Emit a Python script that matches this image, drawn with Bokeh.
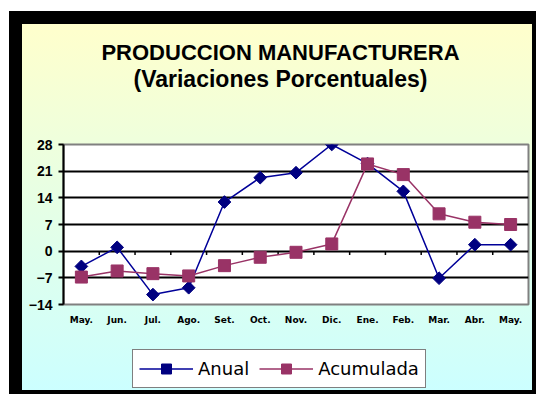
import math
from bokeh.plotting import figure
from bokeh.layouts import column
from bokeh.models import FixedTicker, Label, Legend, LegendItem, Range1d
from bokeh.embed import file_html
from bokeh.resources import INLINE

# ---- data ----
months = ["May.", "Jun.", "Jul.", "Ago.", "Set.", "Oct.", "Nov.", "Dic.",
          "Ene.", "Feb.", "Mar.", "Abr.", "May."]
anual = [-4.0, 1.0, -11.4, -9.6, 12.9, 19.3, 20.6, 28.0, 23.0, 15.7, -7.1, 1.7, 1.7]
acumulada = [-6.8, -5.2, -5.9, -6.5, -3.8, -1.6, -0.3, 1.9, 22.9, 20.1, 9.8, 7.6, 7.0]
y_ticks = [-14, -7, 0, 7, 14, 21, 28]
title_lines = ["PRODUCCION MANUFACTURERA", "(Variaciones Porcentuales)"]
series_names = ["Anual", "Acumulada"]

ANUAL_LINE, ANUAL_MARK = "#000099", "#000080"
ACUM_COLOR = "#993366"

xs = list(range(len(months)))
W = 536

# ---------- title figure ----------
pt = figure(width=W, height=100, output_backend="svg", toolbar_location=None,
            title=None, x_axis_location=None, y_axis_location=None,
            x_range=Range1d(0, 1), y_range=Range1d(0, 1), min_border=0)
pt.grid.visible = False
pt.outline_line_color = None
pt.background_fill_alpha = 0
pt.border_fill_alpha = 0
for txt, yy, fs in zip(title_lines, [48, 22], ["22px", "23px"]):
    pt.add_layout(Label(x=217, y=yy, x_units="screen", y_units="screen", text=txt,
                        text_align="center", text_baseline="middle",
                        text_font="Liberation Sans", text_font_size=fs,
                        text_font_style="bold", text_color="black"))

# ---------- main chart ----------
p = figure(width=W, height=240, output_backend="svg", toolbar_location=None,
           title=None,
           x_range=Range1d(-0.5, len(months) - 0.5),
           y_range=Range1d(min(y_ticks), max(y_ticks)),
           min_border_left=63, min_border_right=8,
           min_border_top=44, min_border_bottom=36)
p.border_fill_alpha = 0
p.background_fill_color = "white"
p.outline_line_color = "#808080"
p.outline_line_width = 2

p.yaxis.ticker = FixedTicker(ticks=y_ticks)
p.yaxis.axis_line_color = "black"
p.yaxis.axis_line_width = 2
p.yaxis.major_tick_out = 5
p.yaxis.major_tick_in = 0
p.yaxis.major_tick_line_width = 2
p.yaxis.major_tick_line_color = "black"
p.yaxis.minor_tick_line_color = None
p.yaxis.major_label_standoff = 6
p.yaxis.major_label_text_font = "Liberation Sans"
p.yaxis.major_label_text_font_size = "14px"
p.yaxis.major_label_text_font_style = "bold"
p.yaxis.major_label_text_color = "black"

p.xaxis.ticker = FixedTicker(ticks=xs)
p.xaxis.major_label_overrides = {i: m for i, m in enumerate(months)}
p.xaxis.axis_line_color = None
p.xaxis.major_tick_line_color = None
p.xaxis.minor_tick_line_color = None
p.xaxis.major_tick_out = 0
p.xaxis.major_tick_in = 0
p.xaxis.major_label_standoff = 10
p.xaxis.major_label_text_font = "DejaVu Sans"
p.xaxis.major_label_text_font_size = "9px"
p.xaxis.major_label_text_font_style = "bold"
p.xaxis.major_label_text_color = "black"

p.xgrid.grid_line_color = None
p.ygrid.ticker = FixedTicker(ticks=y_ticks[1:-1])
p.ygrid.grid_line_color = "black"
p.ygrid.grid_line_width = 2

# category tick marks on the zero line
bounds = [i + 0.5 for i in range(len(months) - 1)]
p.segment(x0=bounds, y0=[0] * len(bounds), x1=bounds, y1=[-1.0] * len(bounds),
          line_color="black", line_width=1.5)

p.line(xs, anual, line_color=ANUAL_LINE, line_width=1.5)
p.scatter(xs, anual, marker="square", size=9, angle=math.pi / 4,
          fill_color=ANUAL_MARK, line_color=ANUAL_MARK)
p.line(xs, acumulada, line_color=ACUM_COLOR, line_width=1.5)
p.scatter(xs, acumulada, marker="square", size=12,
          fill_color=ACUM_COLOR, line_color=ACUM_COLOR)

# ---------- legend figure (series drawn off-range, only the legend shows) ----------
pl = figure(width=W, height=54, output_backend="svg", toolbar_location=None,
            title=None, x_axis_location=None, y_axis_location=None,
            x_range=Range1d(1000, 1001), y_range=Range1d(1000, 1001), min_border=0)
pl.grid.visible = False
pl.outline_line_color = None
pl.background_fill_alpha = 0
pl.border_fill_alpha = 0
la = pl.line(xs, anual, line_color=ANUAL_LINE, line_width=1.5)
sa = pl.scatter(xs, anual, marker="square", size=8, angle=math.pi / 4,
                fill_color=ANUAL_MARK, line_color=ANUAL_MARK)
lc = pl.line(xs, acumulada, line_color=ACUM_COLOR, line_width=1.5)
sc = pl.scatter(xs, acumulada, marker="square", size=10,
                fill_color=ACUM_COLOR, line_color=ACUM_COLOR)
legend = Legend(items=[LegendItem(label=series_names[0], renderers=[la, sa]),
                       LegendItem(label=series_names[1], renderers=[lc, sc])],
                orientation="horizontal", location=(69, 6))
legend.border_line_color = "black"
legend.border_line_width = 1
legend.background_fill_color = "white"
legend.background_fill_alpha = 1
legend.label_text_font = "DejaVu Sans"
legend.label_text_font_size = "18px"
legend.label_text_color = "black"
legend.glyph_width = 54
legend.glyph_height = 25
legend.label_height = 25
legend.label_standoff = 5
legend.spacing = 10
legend.padding = 6
legend.margin = 0
pl.add_layout(legend, "center")

layout = column(pt, p, pl, spacing=0)
layout.styles = {
    "background": ("linear-gradient(to bottom, #FFFFCC, #CCFFFF) 22px 24px / 510px 366px no-repeat, "
                   "linear-gradient(#000000, #000000) 9px 11px / 527px 383px no-repeat")
}

open("out.html", "w").write(file_html(layout, INLINE))
